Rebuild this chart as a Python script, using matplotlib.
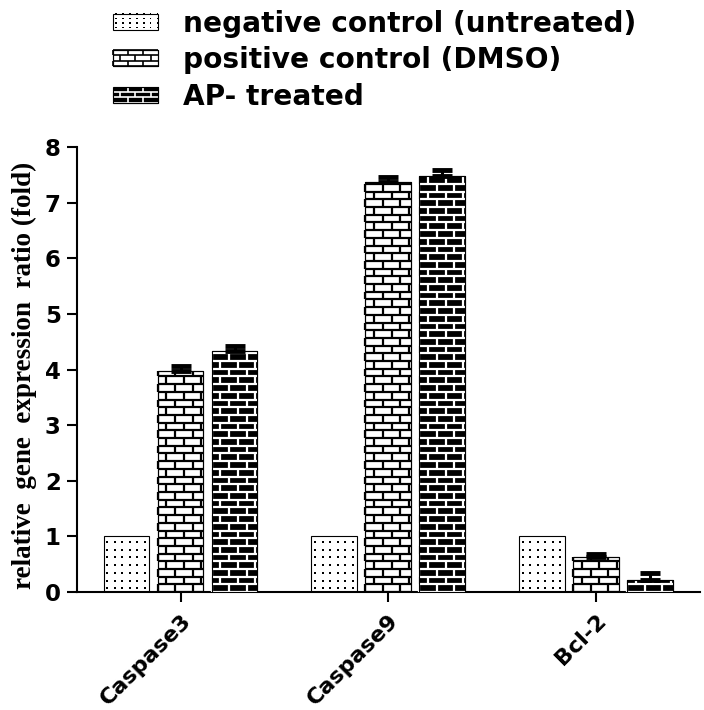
import numpy as np
import matplotlib
matplotlib.use("Agg")
import matplotlib.pyplot as plt
from matplotlib.patches import Rectangle
from matplotlib.collections import LineCollection
from matplotlib.legend_handler import HandlerBase

genes = ["Caspase3", "Caspase9", "Bcl-2"]
labels = ["negative control (untreated)", "positive control (DMSO)", "AP- treated"]
neg_vals = [1.0, 1.0, 1.0]
pos_vals = [3.97, 7.37, 0.63]
ap_vals = [4.33, 7.47, 0.21]
neg_err = [0.0, 0.0, 0.0]
pos_err = [0.09, 0.09, 0.06]
ap_err = [0.09, 0.11, 0.13]

SANS = "DejaVu Sans"


def brick_segments(x0, y0, w, h, row_h, brick_w):
    """mortar lines of a brick wall inside the box (x0, y0, w, h)"""
    segs = []
    nrows = int(np.ceil(h / row_h))
    for r in range(nrows + 1):
        y = y0 + r * row_h
        if y <= y0 + h:
            segs.append([(x0, y), (x0 + w, y)])
    for r in range(nrows):
        ya = y0 + r * row_h
        yb = min(y0 + (r + 1) * row_h, y0 + h)
        off = 0.0 if r % 2 == 0 else brick_w / 2
        x = x0 + off
        while x <= x0 + w:
            segs.append([(x, ya), (x, yb)])
            x += brick_w
    return segs


def dot_points(x0, y0, w, h, dx, dy):
    xs = np.arange(x0 + dx / 2, x0 + w, dx)
    ys = np.arange(y0 + dy / 2, y0 + h, dy)
    X, Y = np.meshgrid(xs, ys)
    return X.ravel(), Y.ravel()


styles = [
    dict(face="white", line=None),
    dict(face="white", line="black"),
    dict(face="black", line="white"),
]


class TextureHandler(HandlerBase):
    def __init__(self, kind):
        super().__init__()
        self.kind = kind

    def create_artists(self, legend, orig_handle, xdescent, ydescent,
                       width, height, fontsize, trans):
        st = styles[self.kind]
        x0, y0 = -xdescent, -ydescent
        arts = [Rectangle((x0, y0), width, height, facecolor=st["face"],
                          edgecolor="black", lw=0.8, transform=trans)]
        if self.kind == 0:
            xs, ys = dot_points(x0, y0, width, height, 5.0, 3.2)
            for x, y in zip(xs, ys):
                arts.append(Rectangle((x - 0.5, y - 0.5), 1.0, 1.0,
                                      facecolor="black", lw=0, transform=trans))
        else:
            segs = brick_segments(x0, y0, width, height, height / 3, 11.0)
            arts.append(LineCollection(segs, colors=st["line"], linewidths=1.2,
                                       transform=trans))
            arts.append(Rectangle((x0, y0), width, height, facecolor="none",
                                  edgecolor="black", lw=0.8, transform=trans))
        return arts


fig = plt.figure(figsize=(7.04, 7.1), dpi=100)
ax = fig.add_axes([0.109, 0.166, 0.885, 0.627])

x = np.arange(len(genes))
bw = 0.22
step = 0.26
series = [neg_vals, pos_vals, ap_vals]
errs = [neg_err, pos_err, ap_err]

# px -> data scale for the textures
px_x = 1 / 208.0
px_y = 8 / 445.0

for k, (vals, err) in enumerate(zip(series, errs)):
    st = styles[k]
    pos = x + (k - 1) * step
    bars = ax.bar(pos, vals, width=bw, color=st["face"], edgecolor="black",
                  linewidth=0.8, zorder=2)
    for b in bars:
        bx, by, bwid, bh = b.get_x(), b.get_y(), b.get_width(), b.get_height()
        if k == 0:
            xs, ys = dot_points(bx, by, bwid, bh, 7.5 * px_x, 7.7 * px_y)
            ax.scatter(xs, ys, s=2.2, marker="s", color="black", lw=0, zorder=3)
        else:
            segs = brick_segments(bx, by, bwid, bh, 7.7 * px_y, 17.5 * px_x)
            ax.add_collection(LineCollection(segs, colors=st["line"],
                                             linewidths=1.6, zorder=3))
            ax.add_patch(Rectangle((bx, by), bwid, bh, facecolor="none",
                                   edgecolor="black", lw=0.8, zorder=3))
    if k > 0:
        ax.errorbar(pos, vals, yerr=[np.zeros(len(vals)), err], fmt="none",
                    ecolor="black", elinewidth=2.2, capsize=7, capthick=3.5,
                    zorder=4)

ax.set_xlim(-0.5, 2.5)
ax.set_ylim(0, 8)
ax.set_yticks(range(0, 9))
ax.set_xticks(x)
ax.set_xticklabels(genes, rotation=45, ha="right", rotation_mode="anchor",
                   fontsize=16, fontweight="bold", family=SANS)
for t in ax.get_yticklabels():
    t.set_fontsize(16.5)
    t.set_fontweight("bold")
    t.set_family(SANS)
ax.spines["top"].set_visible(False)
ax.spines["right"].set_visible(False)
ax.spines["left"].set_linewidth(1.5)
ax.spines["bottom"].set_linewidth(1.5)
ax.tick_params(axis="both", direction="out", length=7.5, width=1.5, pad=4)
ax.tick_params(axis="x", pad=6)
ax.set_ylabel("relative  gene  expression  ratio (fold)", family="Liberation Serif",
              fontweight="bold", fontsize=19.5, labelpad=4)
ax.yaxis.set_label_coords(-0.064, 0.488)

handles = [Rectangle((0, 0), 1, 1) for _ in range(3)]
fig.legend(handles, labels,
           handler_map={handles[i]: TextureHandler(i) for i in range(3)},
           loc="upper left", bbox_to_anchor=(0.132, 1.014), frameon=False,
           prop=dict(family=SANS, weight="bold", size=20.2),
           handlelength=1.62, handleheight=0.5, handletextpad=0.9,
           labelspacing=0.3, borderaxespad=0.3)

fig.savefig("out.png", dpi=100)
